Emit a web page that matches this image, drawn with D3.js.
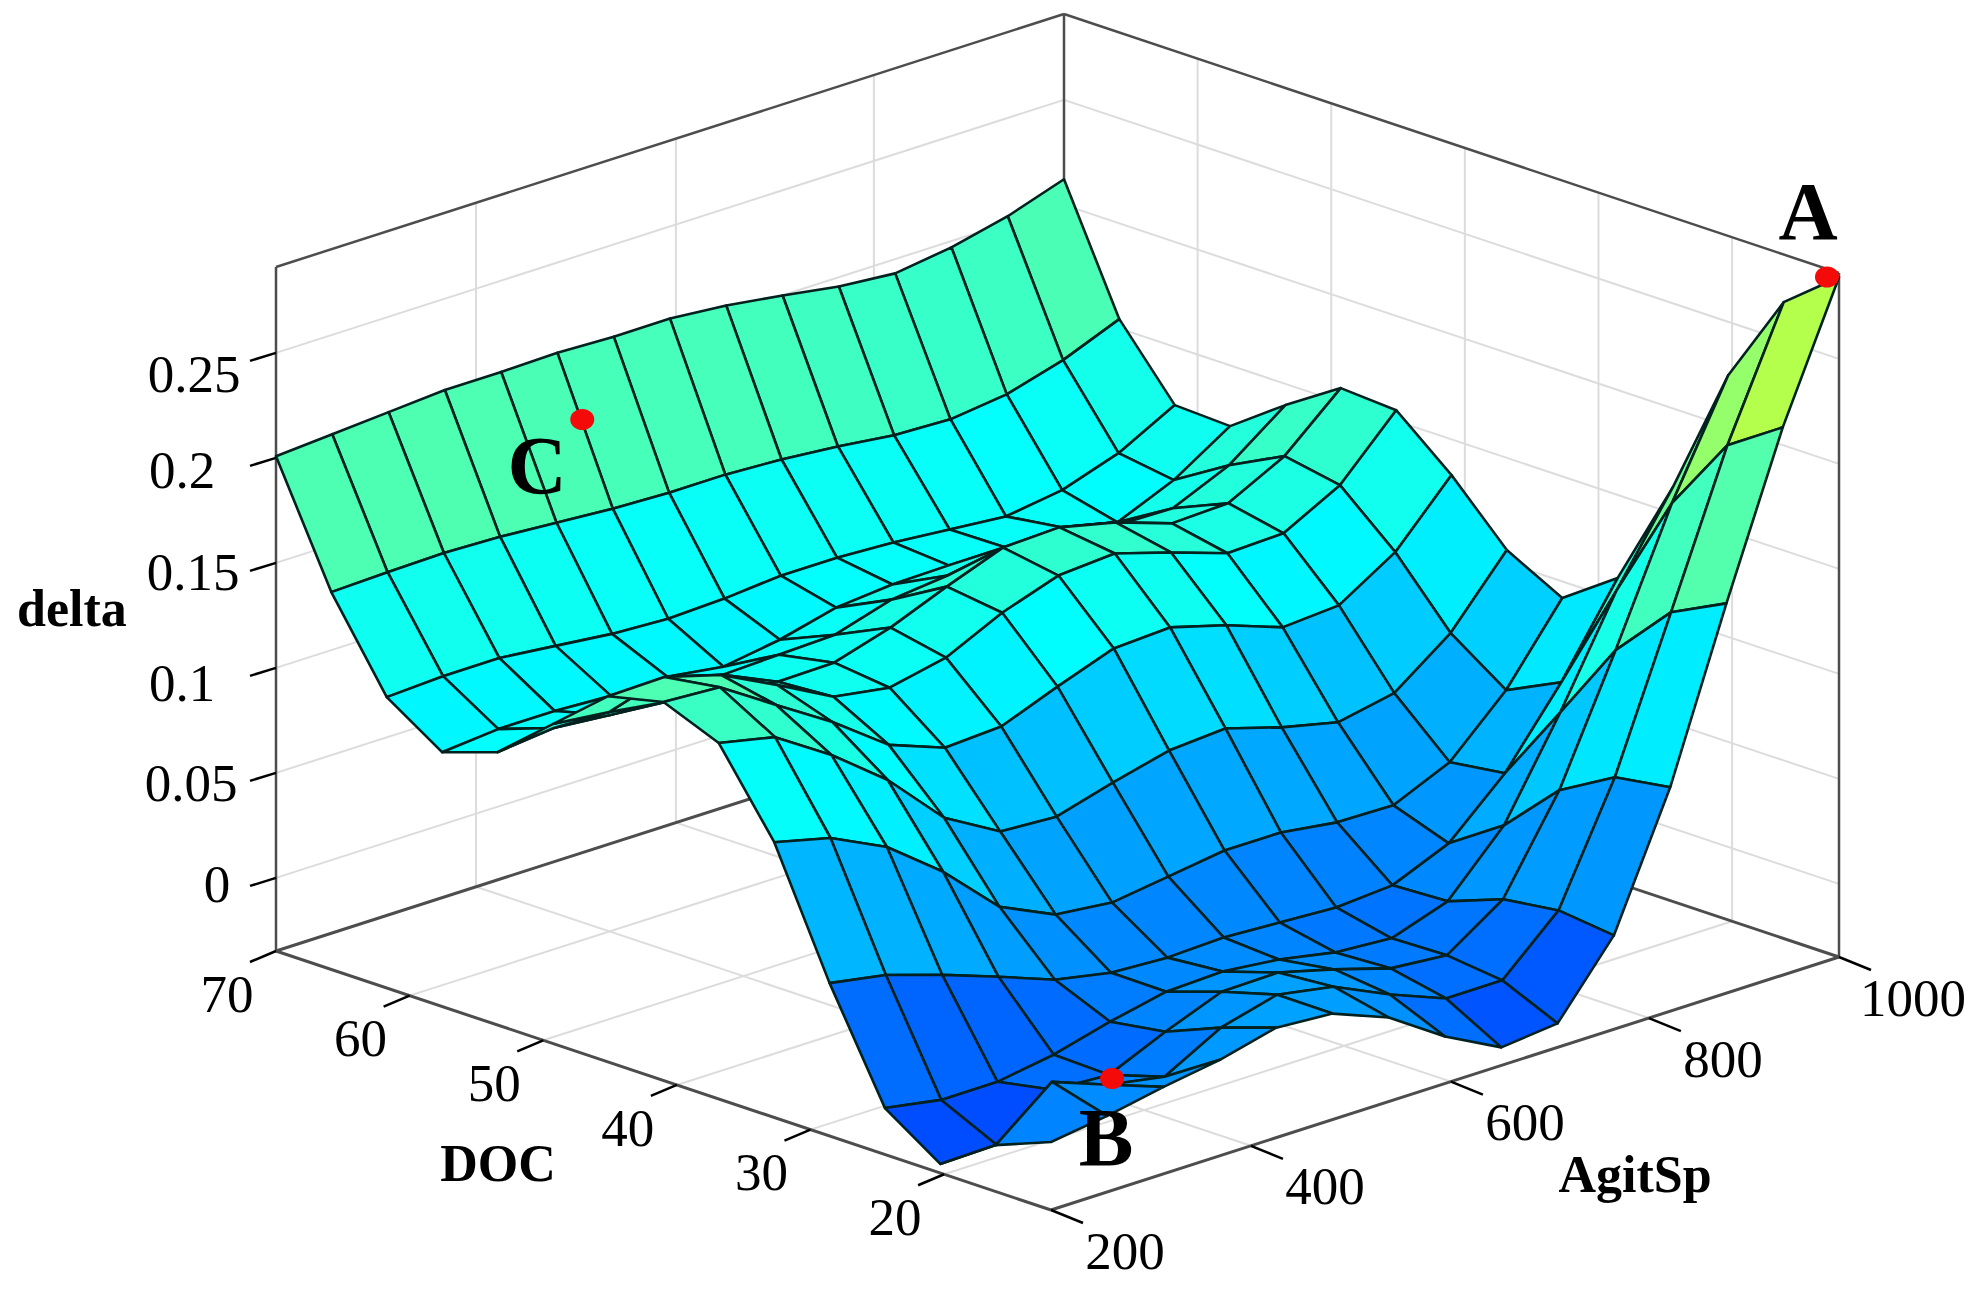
<!DOCTYPE html>
<html>
<head>
<meta charset="utf-8">
<title>delta surface</title>
<script src="https://cdnjs.cloudflare.com/ajax/libs/d3/7.8.5/d3.min.js"></script>
<style>
	html, body { margin: 0; padding: 0; background: #fff; }
	svg { display: block; }
	text { font-family: "Liberation Serif", serif; fill: #000; }
</style>
</head>
<body>
<div id="chart"></div>
<script>
// grid of the surface
let docGrid = [70, 65.86, 61.71, 57.57, 53.43, 49.29, 45.14, 41, 36.86, 32.71, 28.57, 24.43, 20.29, 16.14, 12];
let agitGrid = [200, 257.1, 314.3, 371.4, 428.6, 485.7, 542.9, 600, 657.1, 714.3, 771.4, 828.6, 885.7, 942.9, 1000];

// delta, one row per docGrid value, one column per agitGrid value
let deltaValues = [
	[0.2008, 0.2027, 0.2046, 0.2065, 0.2065, 0.207, 0.2061, 0.2061, 0.2037, 0.1999, 0.1956, 0.1932, 0.197, 0.2032, 0.2122],
	[0.1449, 0.1458, 0.1463, 0.1454, 0.1435, 0.1416, 0.1406, 0.1406, 0.1392, 0.1368, 0.1335, 0.1325, 0.1358, 0.1435, 0.1544],
	[0.1037, 0.1051, 0.1051, 0.1023, 0.0994, 0.098, 0.099, 0.1013, 0.1013, 0.0999, 0.0975, 0.0951, 0.099, 0.108, 0.1223],
	[0.0863, 0.0887, 0.0887, 0.0873, 0.0878, 0.084, 0.0882, 0.0949, 0.0973, 0.0978, 0.0978, 0.0987, 0.0925, 0.104, 0.1211],
	[0.0951, 0.098, 0.0956, 0.0966, 0.0975, 0.0985, 0.0994, 0.1075, 0.1104, 0.1151, 0.1161, 0.1085, 0.108, 0.1199, 0.1399],
	[0.1173, 0.1144, 0.1106, 0.1063, 0.103, 0.1035, 0.1116, 0.1225, 0.1325, 0.1335, 0.1273, 0.1182, 0.1192, 0.133, 0.1568],
	[0.1394, 0.1399, 0.1323, 0.1189, 0.1047, 0.1004, 0.1061, 0.1189, 0.128, 0.1299, 0.1218, 0.1128, 0.1137, 0.128, 0.1551],
	[0.1454, 0.1439, 0.1268, 0.1101, 0.0906, 0.0806, 0.0821, 0.0925, 0.1021, 0.1035, 0.0959, 0.0863, 0.0882, 0.1049, 0.133],
	[0.1347, 0.1289, 0.1118, 0.0913, 0.0647, 0.0495, 0.048, 0.0556, 0.0623, 0.0642, 0.0561, 0.0499, 0.0552, 0.0752, 0.1061],
	[0.0963, 0.0897, 0.0768, 0.0564, 0.0311, 0.0188, 0.0159, 0.0197, 0.0235, 0.0235, 0.0197, 0.0192, 0.0311, 0.0568, 0.0921],
	[0.038, 0.0333, 0.0247, 0.0152, 0.0052, -0.0001, -0.0015, -0.0005, -0.002, -0.0034, -0.0015, 0.0099, 0.0347, 0.0694, 0.1104],
	[-0.0127, -0.0174, -0.0174, -0.0131, -0.006, -0.0003, 0.0007, -0.0022, -0.0074, -0.0093, -0.0003, 0.0273, 0.0725, 0.122, 0.1625],
	[-0.0305, -0.03, -0.0124, -0.0139, -0.002, 0.0085, 0.009, 0.0019, -0.0062, -0.0086, 0.0095, 0.0528, 0.1109, 0.1723, 0.2246],
	[-0.0127, 0.0088, -0.0012, -0.006, 0.0088, 0.0159, 0.0111, -0.0012, -0.0117, -0.0117, 0.013, 0.0678, 0.1378, 0.2087, 0.2682],
	[-0.0024, 0.0014, 0.0066, 0.0109, 0.0176, 0.0157, 0.0052, -0.0124, -0.0262, -0.0234, 0.0099, 0.0718, 0.1508, 0.226, 0.2889]
];

// axis ticks
let docTicks = [70, 60, 50, 40, 30, 20];
let agitTicks = [200, 400, 600, 800, 1000];
let deltaTicks = [0.25, 0.2, 0.15, 0.1, 0.05, 0];
let deltaTickLabels = ["0.25", "0.2", "0.15", "0.1", "0.05", "0"];

// marked points A, B, C
let markNames = ["A", "B", "C"];
let markDoc = [12.9, 12, 67.5];
let markAgit = [1000, 262, 477];
let markDelta = [0.2871, 0.0185, 0.1819];

let docMin = 12, docMax = 70;
let agitMin = 200, agitMax = 1000;
let deltaMin = -0.0348, deltaMax = 0.2909;

let svg;
let docX, docY, agitX, agitY, deltaY, agitTickPos, colorPos, jet;

const originX = 276;
const originY = 951;

//
//	project
//	 goes from data values to screen position
//
project = function (doc, agit, delta) {
	return [
		originX + docX(doc) + agitX(agit),
		originY + docY(doc) + agitY(agit) + deltaY(delta),
	];
};

//
//	initScales
//
//
initScales = function () {
	docX = d3.scaleLinear().domain([docMax, docMin]).range([0, 775]);
	docY = d3.scaleLinear().domain([docMax, docMin]).range([0, 259]);
	agitX = d3.scaleLinear().domain([agitMin, agitMax]).range([0, 788]);
	agitY = d3.scaleLinear().domain([agitMin, agitMax]).range([0, -253]);
	deltaY = d3.scaleLinear().domain([deltaMin, deltaMax]).range([0, -684]);

	// the printed agit ticks sit slightly off a straight scale
	agitTickPos = d3
		.scaleLinear()
		.domain([200, 400, 600, 800, 1000])
		.range([200, 403, 606, 807, 1000]);

	// delta to position in the jet colormap
	colorPos = d3
		.scaleLinear()
		.domain([-0.03, -0.01, 0, 0.02, 0.05, 0.07, 0.09, 0.1, 0.128, 0.145, 0.209, 0.226, 0.29])
		.range([0.2, 0.237, 0.26, 0.287, 0.315, 0.355, 0.37, 0.384, 0.42, 0.45, 0.52, 0.55, 0.65]);
	jet = d3
		.scaleLinear()
		.domain([0, 0.125, 0.375, 0.625, 0.875, 1])
		.range(["#00008f", "#0000ff", "#00ffff", "#ffff00", "#ff0000", "#800000"]);
};

//
//	line3d
//
//
line3d = function (g, a, b, color, w) {
	let p = project(a[0], a[1], a[2]);
	let q = project(b[0], b[1], b[2]);
	g.append("line")
		.attr("x1", p[0])
		.attr("y1", p[1])
		.attr("x2", q[0])
		.attr("y2", q[1])
		.attr("stroke", color)
		.attr("stroke-width", w);
};

//
//	drawGrid
//
//
drawGrid = function () {
	let g = svg.append("g");
	let gridColor = "#dcdcdc";
	deltaTicks.forEach((d) => {
		line3d(g, [docMax, agitMin, d], [docMax, agitMax, d], gridColor, 2);
		line3d(g, [docMax, agitMax, d], [docMin, agitMax, d], gridColor, 2);
	});
	agitTicks.forEach((a) => {
		let pos = agitTickPos(a);
		line3d(g, [docMax, pos, deltaMin], [docMax, pos, deltaMax], gridColor, 2);
		line3d(g, [docMax, pos, deltaMin], [docMin, pos, deltaMin], gridColor, 2);
	});
	docTicks.forEach((d) => {
		line3d(g, [d, agitMax, deltaMin], [d, agitMax, deltaMax], gridColor, 2);
		line3d(g, [d, agitMin, deltaMin], [d, agitMax, deltaMin], gridColor, 2);
	});
};

//
//	drawBox
//
//
drawBox = function () {
	let g = svg.append("g");
	let boxColor = "#4d4d4d";
	// walls
	line3d(g, [docMax, agitMin, deltaMin], [docMax, agitMin, deltaMax], boxColor, 2.5);
	line3d(g, [docMax, agitMin, deltaMax], [docMax, agitMax, deltaMax], boxColor, 2.5);
	line3d(g, [docMax, agitMax, deltaMax], [docMin, agitMax, deltaMax], boxColor, 2.5);
	line3d(g, [docMin, agitMax, deltaMax], [docMin, agitMax, deltaMin], boxColor, 2.5);
	line3d(g, [docMax, agitMax, deltaMin], [docMax, agitMax, deltaMax], boxColor, 2.5);
	// floor
	line3d(g, [docMax, agitMin, deltaMin], [docMin, agitMin, deltaMin], boxColor, 3);
	line3d(g, [docMin, agitMin, deltaMin], [docMin, agitMax, deltaMin], boxColor, 3);
	line3d(g, [docMax, agitMin, deltaMin], [docMax, agitMax, deltaMin], boxColor, 3);
	line3d(g, [docMax, agitMax, deltaMin], [docMin, agitMax, deltaMin], boxColor, 3);
};

//
//	drawAxes
//
//
drawAxes = function () {
	let g = svg.append("g");

	function tick(p, dx, dy) {
		g.append("line")
			.attr("x1", p[0])
			.attr("y1", p[1])
			.attr("x2", p[0] + dx)
			.attr("y2", p[1] + dy)
			.attr("stroke", "#000")
			.attr("stroke-width", 2.5);
	}

	function label(x, y, str) {
		g.append("text")
			.attr("x", x)
			.attr("y", y)
			.attr("dy", "0.35em")
			.attr("text-anchor", "middle")
			.attr("font-size", 53)
			.text(str);
	}

	// hand placed in the original
	let deltaLabelX = [194, 182, 193, 182, 191, 217];
	let deltaLabelDy = [21, 12, 9, 15, 10, 6];
	deltaTicks.forEach((d, i) => {
		let p = project(docMax, agitMin, d);
		tick(p, -26, 8);
		label(deltaLabelX[i], p[1] + deltaLabelDy[i], deltaTickLabels[i]);
	});
	docTicks.forEach((d) => {
		let p = project(d, agitMin, deltaMin);
		tick(p, -26, 11);
		label(p[0] - 49, p[1] + 42, d);
	});
	agitTicks.forEach((a) => {
		let p = project(docMin, agitTickPos(a), deltaMin);
		tick(p, 32, 13);
		label(p[0] + 74, p[1] + 40, a);
	});
};

//
//	drawSurface
//
//
drawSurface = function () {
	let cells = [];
	for (let i = 0; i < docGrid.length - 1; i++) {
		for (let j = 0; j < agitGrid.length - 1; j++) {
			let corners = [
				[i, j],
				[i, j + 1],
				[i + 1, j + 1],
				[i + 1, j],
			];
			cells.push({
				order: i - j,
				points: corners.map((c) =>
					project(docGrid[c[0]], agitGrid[c[1]], deltaValues[c[0]][c[1]])
				),
				// facet takes its colour from one corner, lowest doc and agit
				delta: deltaValues[i + 1][j],
			});
		}
	}
	// far corner first
	cells.sort((a, b) => a.order - b.order);

	svg
		.append("g")
		.selectAll("polygon")
		.data(cells)
		.enter()
		.append("polygon")
		.attr("points", (d) => d.points.map((p) => p.join(",")).join(" "))
		.attr("fill", (d) => jet(colorPos(d.delta)))
		.attr("stroke", "#03211f")
		.attr("stroke-width", 2.6)
		.attr("stroke-linejoin", "round");
};

//
//	drawMarks
//
//
drawMarks = function () {
	let g = svg.append("g");
	markNames.forEach((name, i) => {
		let p = project(markDoc[i], markAgit[i], markDelta[i]);
		g.append("ellipse")
			.attr("cx", p[0])
			.attr("cy", p[1])
			.attr("rx", 12)
			.attr("ry", 10.5)
			.attr("fill", "#f50a0a");
	});

	let letterX = [1808, 1106, 537];
	let letterY = [212, 1138, 466];
	markNames.forEach((name, i) => {
		g.append("text")
			.attr("x", letterX[i])
			.attr("y", letterY[i])
			.attr("dy", "0.33em")
			.attr("text-anchor", "middle")
			.attr("font-size", 82)
			.attr("font-weight", "bold")
			.text(name);
	});
};

//
//	drawTitles
//
//
drawTitles = function () {
	let titles = ["delta", "DOC", "AgitSp"];
	let titleX = [72, 498, 1635];
	let titleY = [610, 1165, 1176];
	titles.forEach((t, i) => {
		svg
			.append("text")
			.attr("x", titleX[i])
			.attr("y", titleY[i])
			.attr("dy", "0.3em")
			.attr("text-anchor", "middle")
			.attr("font-size", 52)
			.attr("font-weight", "bold")
			.text(t);
	});
};

svg = d3.select("#chart").append("svg").attr("width", 1968).attr("height", 1300);
initScales();
drawGrid();
drawBox();
drawAxes();
drawSurface();
drawMarks();
drawTitles();
</script>
</body>
</html>
